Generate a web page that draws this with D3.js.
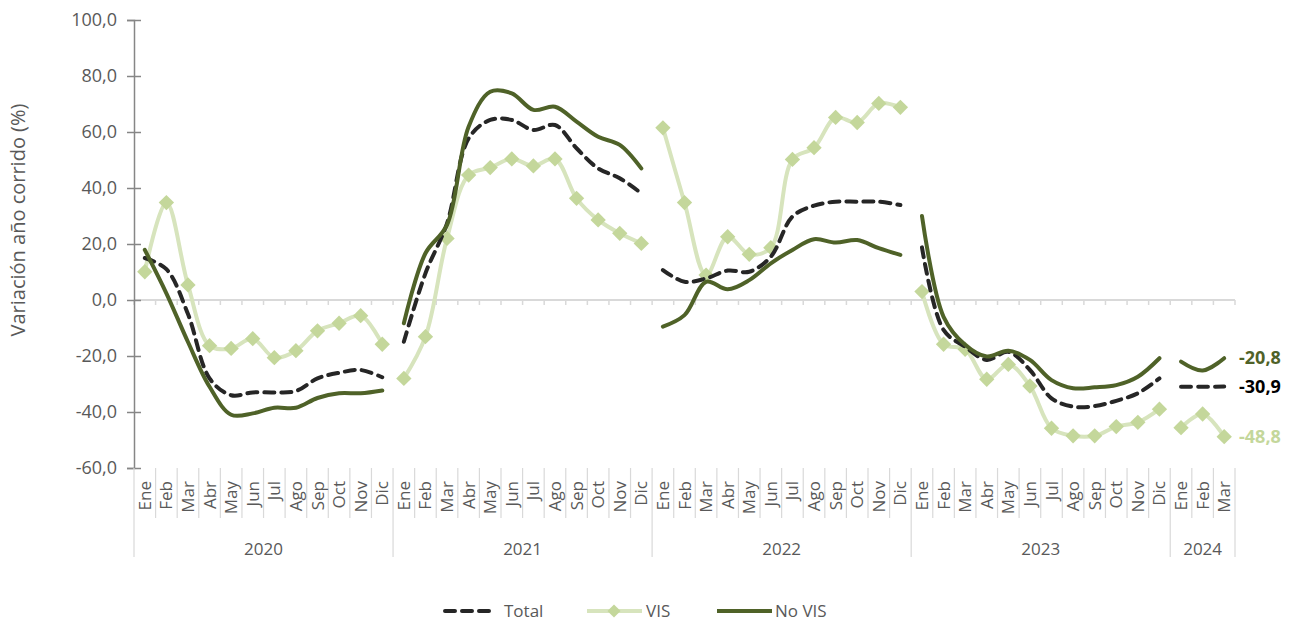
<!DOCTYPE html>
<html>
<head>
<meta charset="utf-8">
<script src="https://cdn.jsdelivr.net/npm/d3@7"></script>
<style>
  body { margin: 0; background: #fff; }
  text { font-family: "Open Sans", "Noto Sans", sans-serif; }
</style>
</head>
<body>
<div class="chart"></div>
<script>
// categories
var years = ["2020", "2021", "2022", "2023", "2024"];
var monthNames = ["Ene", "Feb", "Mar", "Abr", "May", "Jun", "Jul", "Ago", "Sep", "Oct", "Nov", "Dic"];
var monthsPerYear = [12, 12, 12, 12, 3];
var yTicks = [-60, -40, -20, 0, 20, 40, 60, 80, 100];

// series (variación año corrido, %)
var total = [
  15, 11, -5, -28, -34, -33, -33, -32.5, -28, -26, -25, -27.6,
  -14.9, 9.5, 27.4, 57.7, 64.3, 64.3, 60.7, 62.5, 54.2, 47, 43.5, 38.1,
  10.7, 6.5, 7.7, 10.5, 10.1, 15.5, 29.8, 33.7, 35.1, 35.1, 35.1, 33.9,
  18.8, -10.7, -16.7, -21.4, -18.5, -25, -35.1, -38.1, -37.9, -36, -33.3, -28,
  -31, -31, -30.9
];
var vis = [
  10.1, 34.8, 5.4, -16.3, -17.3, -13.8, -20.6, -18.1, -11, -8.3, -5.6, -15.8,
  -28, -13.1, 22, 44.6, 47.3, 50.4, 47.9, 50.4, 36.3, 28.6, 23.8, 20.2,
  61.5, 34.8, 8.9, 22.6, 16.3, 18.7, 50.2, 54.4, 65.2, 63.4, 70.2, 68.8,
  3, -15.8, -17.6, -28.3, -23, -30.7, -45.8, -48.5, -48.5, -45.2, -43.7, -39,
  -45.6, -40.7, -48.8
];
var noVis = [
  17.9, 2.4, -15, -31, -41, -40.5, -38.5, -38.5, -35, -33.3, -33.3, -32.3,
  -8.3, 16.7, 26.8, 61.9, 74.4, 73.8, 67.9, 69, 63.7, 58.3, 55.4, 47,
  -9.5, -5.4, 6.5, 3.8, 7.1, 13.1, 17.9, 21.7, 20.5, 21.4, 18.5, 16.1,
  30, -6, -16, -20.2, -18.1, -21.4, -28.6, -31.5, -31.2, -30.4, -27.4, -20.8,
  -22, -25.2, -20.8
];

var width = 1298, height = 621;
var x0 = 134, x1 = 1235, yTop = 20, yBot = 468;

// build category list: one entry per month, with its year
var cats = [];
years.forEach(function(yr, yi) {
  for (var m = 0; m < monthsPerYear[yi]; m++) {
    cats.push({ i: cats.length, year: yr, yi: yi, month: monthNames[m] });
  }
});

// number format with comma decimal and plain hyphen
var fmt = function(v) { return d3.format(".1f")(v).replace(".", ",").replace("\u2212", "-"); };

var svg = d3.select(".chart").append("svg")
  .attr("width", width)
  .attr("height", height);

var x = d3.scaleBand().domain(cats.map(function(d) { return d.i; })).range([x0, x1]);
var y = d3.scaleLinear().domain([-60, 100]).range([yBot, yTop]);
var cx = function(i) { return x(i) + x.bandwidth() / 2; };

// zero line with category ticks
svg.append("line")
  .attr("x1", x0).attr("x2", x1)
  .attr("y1", y(0)).attr("y2", y(0))
  .attr("stroke", "#d9d9d9").attr("stroke-width", 2);
svg.selectAll(".ztick")
  .data(d3.range(cats.length + 1))
  .enter().append("line")
  .attr("x1", function(d) { return x0 + d * x.bandwidth(); })
  .attr("x2", function(d) { return x0 + d * x.bandwidth(); })
  .attr("y1", y(0)).attr("y2", y(0) + 5)
  .attr("stroke", "#d9d9d9").attr("stroke-width", 1.5);

// y axis
var yAxis = d3.axisLeft(y).tickValues(yTicks)
  .tickFormat(fmt)
  .tickSize(7).tickPadding(10);
var gy = svg.append("g").attr("transform", "translate(" + x0 + ",0)").call(yAxis);
gy.select(".domain").attr("stroke", "#868686").attr("stroke-width", 1.5);
gy.selectAll(".tick line").attr("stroke", "#868686").attr("stroke-width", 1.5).attr("x2", -7).attr("x1", 7);
gy.selectAll(".tick text").attr("fill", "#595959").style("font-size", "18px")
  .style("font-family", "'Open Sans', sans-serif");

svg.append("text")
  .attr("transform", "translate(25," + ((yTop + yBot) / 2 - 24) + ") rotate(-90)")
  .attr("text-anchor", "middle")
  .attr("fill", "#595959")
  .style("font-size", "20px")
  .text("Variación año corrido (%)");

// category axis: month separators, month labels, year separators, year labels
var bw = x.bandwidth();
svg.selectAll(".msep")
  .data(d3.range(cats.length + 1))
  .enter().append("line")
  .attr("x1", function(d) { return x0 + d * bw; })
  .attr("x2", function(d) { return x0 + d * bw; })
  .attr("y1", yBot)
  .attr("y2", function(d) {
    var isYear = d === 0 || d === cats.length || (d < cats.length && cats[d].month === "Ene");
    return isYear ? 557 : 518;
  })
  .attr("stroke", "#d9d9d9").attr("stroke-width", 1.2);

svg.selectAll(".mlab")
  .data(cats)
  .enter().append("text")
  .attr("transform", function(d) { return "translate(" + (cx(d.i) + 6) + ",481) rotate(-90)"; })
  .attr("text-anchor", "end")
  .attr("fill", "#595959")
  .style("font-size", "17px")
  .text(function(d) { return d.month; });

svg.selectAll(".ylab")
  .data(years)
  .enter().append("text")
  .attr("x", function(d, i) {
    var ids = cats.filter(function(c) { return c.yi === i; });
    return (x(ids[0].i) + x(ids[ids.length - 1].i) + bw) / 2;
  })
  .attr("y", 555)
  .attr("text-anchor", "middle")
  .attr("fill", "#595959")
  .style("font-size", "17px")
  .text(function(d) { return d; });

// lines, broken at each year
var line = d3.line()
  .x(function(d) { return cx(d.i); })
  .y(function(d) { return y(d.v); })
  .curve(d3.curveCatmullRom.alpha(0.5));

function segments(values) {
  return years.map(function(yr, yi) {
    return cats.filter(function(c) { return c.yi === yi; })
      .map(function(c) { return { i: c.i, v: values[c.i] }; });
  });
}

var series = [
  { name: "VIS", values: vis, color: "#d7e4bd", width: 4, dash: null },
  { name: "Total", values: total, color: "#262626", width: 4, dash: "10,7" },
  { name: "No VIS", values: noVis, color: "#4f6228", width: 4, dash: null }
];

series.forEach(function(s) {
  svg.selectAll(null)
    .data(segments(s.values))
    .enter().append("path")
    .attr("d", line)
    .attr("fill", "none")
    .attr("stroke", s.color)
    .attr("stroke-width", s.width)
    .attr("stroke-linecap", "round")
    .attr("stroke-dasharray", s.dash);
  if (s.name === "VIS") {
    svg.selectAll(null)
      .data(cats)
      .enter().append("path")
      .attr("d", d3.symbol().type(d3.symbolDiamond2).size(150))
      .attr("transform", function(d) { return "translate(" + cx(d.i) + "," + y(vis[d.i]) + ")"; })
      .attr("fill", "#c4d79b");
  }
});

// end labels
var last = cats.length - 1;
var endLabels = [
  { v: noVis[last], color: "#4f6228" },
  { v: total[last], color: "#000000" },
  { v: vis[last], color: "#c4d79b" }
];
svg.selectAll(".elab")
  .data(endLabels)
  .enter().append("text")
  .attr("x", 1239)
  .attr("y", function(d) { return y(d.v) + 6; })
  .attr("fill", function(d) { return d.color; })
  .style("font-size", "18px")
  .style("font-weight", "bold")
  .text(function(d) { return fmt(d.v); });

// legend
var legend = svg.append("g").attr("transform", "translate(0,611)");
legend.append("line").attr("x1", 445).attr("x2", 491).attr("y1", 0).attr("y2", 0)
  .attr("stroke", "#262626").attr("stroke-width", 4).attr("stroke-linecap", "round")
  .attr("stroke-dasharray", "10,7");
legend.append("text").attr("x", 504).attr("y", 6).attr("fill", "#595959")
  .style("font-size", "17px").text("Total");
legend.append("line").attr("x1", 587).attr("x2", 642).attr("y1", 0).attr("y2", 0)
  .attr("stroke", "#d7e4bd").attr("stroke-width", 4);
legend.append("path").attr("d", d3.symbol().type(d3.symbolDiamond2).size(110))
  .attr("transform", "translate(614,0)").attr("fill", "#c4d79b");
legend.append("text").attr("x", 646).attr("y", 6).attr("fill", "#595959")
  .style("font-size", "17px").text("VIS");
legend.append("line").attr("x1", 717).attr("x2", 772).attr("y1", 0).attr("y2", 0)
  .attr("stroke", "#4f6228").attr("stroke-width", 4);
legend.append("text").attr("x", 775).attr("y", 6).attr("fill", "#595959")
  .style("font-size", "17px").text("No VIS");
</script>
</body>
</html>
